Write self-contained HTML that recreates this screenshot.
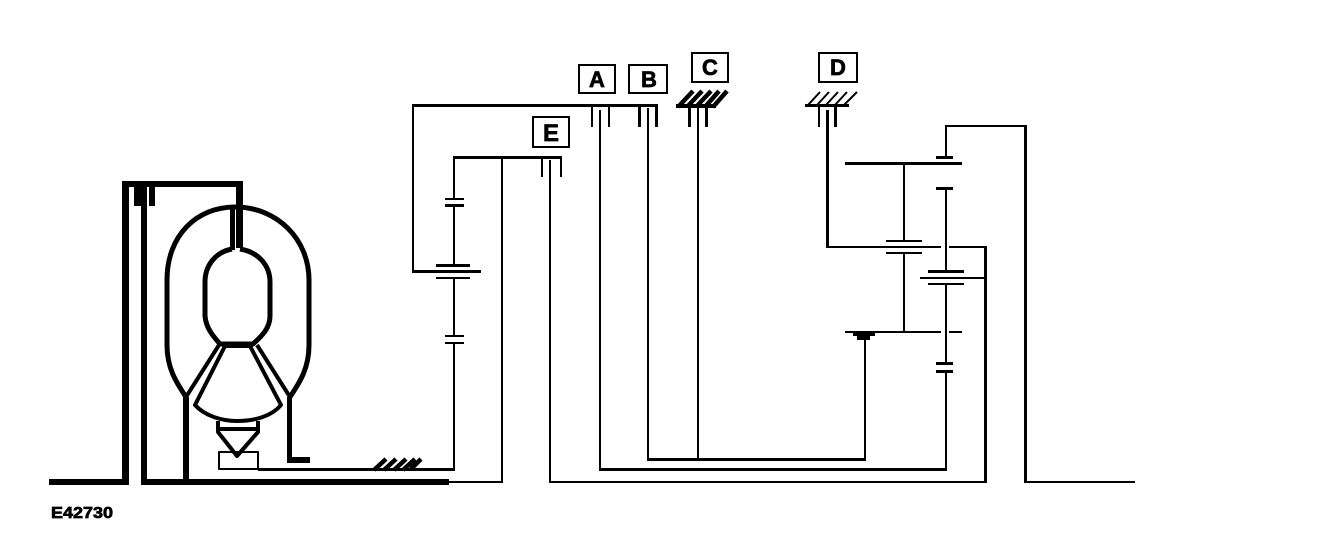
<!DOCTYPE html>
<html><head><meta charset="utf-8"><style>
html,body{margin:0;padding:0;background:#fff;width:1328px;height:540px;overflow:hidden}
svg{display:block}
text{font-family:"Liberation Sans",sans-serif;font-weight:bold;fill:#000;stroke:#000;stroke-width:.7}
</style></head><body>
<svg width="1328" height="540" viewBox="0 0 1328 540" xmlns="http://www.w3.org/2000/svg">
<rect width="1328" height="540" fill="#fff"/>
<g fill="#000" shape-rendering="crispEdges">
<!-- left converter frame -->
<rect x="49" y="479" width="80" height="6"/>
<rect x="122" y="181" width="7" height="304"/>
<rect x="122" y="181" width="121" height="6"/>
<rect x="236" y="181" width="7" height="67"/>
<rect x="134" y="187" width="7" height="19"/>
<rect x="141" y="187" width="6" height="298"/>
<rect x="149" y="187" width="6" height="19"/>
<rect x="141" y="479" width="308" height="6"/>
<rect x="183" y="397" width="6" height="85"/>
<rect x="287" y="397" width="5" height="66"/>
<rect x="287" y="457" width="23" height="6"/>
<rect x="230" y="207" width="5" height="43"/>
<!-- lower thin lines -->
<rect x="258" y="468" width="197" height="3"/>
<rect x="449" y="481" width="54" height="2"/>
<rect x="501" y="157" width="2" height="326"/>
<!-- left gear -->
<rect x="453" y="156" width="109" height="3"/>
<rect x="453" y="156" width="2" height="44"/>
<rect x="445" y="198" width="19" height="2"/>
<rect x="445" y="204" width="19" height="3"/>
<rect x="453" y="207" width="2" height="58"/>
<rect x="436" y="264" width="34" height="3"/>
<rect x="412" y="270" width="69" height="3"/>
<rect x="436" y="277" width="34" height="2"/>
<rect x="453" y="279" width="2" height="58"/>
<rect x="445" y="335" width="19" height="2"/>
<rect x="445" y="342" width="19" height="2"/>
<rect x="453" y="344" width="2" height="127"/>
<!-- A/B top -->
<rect x="412" y="104" width="246" height="3"/>
<rect x="412" y="104" width="2" height="168"/>
<rect x="591" y="107" width="2" height="20"/>
<rect x="608" y="107" width="2" height="20"/>
<rect x="599" y="110" width="2" height="361"/>
<rect x="638" y="107" width="3" height="20"/>
<rect x="655" y="107" width="3" height="20"/>
<rect x="647" y="108" width="2" height="353"/>
<!-- C -->
<rect x="676" y="104" width="40" height="4"/>
<rect x="688" y="107" width="3" height="20"/>
<rect x="705" y="107" width="3" height="20"/>
<rect x="697" y="108" width="2" height="352"/>
<!-- E ticks -->
<rect x="541" y="159" width="2" height="18"/>
<rect x="560" y="159" width="2" height="18"/>
<rect x="549" y="160" width="2" height="323"/>
<rect x="549" y="481" width="438" height="2"/>
<!-- horizontal long -->
<rect x="647" y="458" width="219" height="3"/>
<rect x="599" y="468" width="348" height="3"/>
<!-- D -->
<rect x="805" y="104" width="44" height="3"/>
<rect x="818" y="107" width="2" height="20"/>
<rect x="834" y="107" width="3" height="20"/>
<rect x="826" y="110" width="3" height="138"/>
<rect x="826" y="246" width="115" height="2"/>
<rect x="949" y="246" width="38" height="2"/>
<rect x="984" y="246" width="3" height="237"/>
<!-- right gears -->
<rect x="945" y="125" width="82" height="2"/>
<rect x="1024" y="125" width="3" height="358"/>
<rect x="1024" y="481" width="111" height="2"/>
<rect x="945" y="125" width="2" height="32"/>
<rect x="936" y="156" width="17" height="3"/>
<rect x="845" y="162" width="117" height="3"/>
<rect x="936" y="187" width="17" height="3"/>
<rect x="945" y="190" width="2" height="81"/>
<rect x="928" y="270" width="36" height="3"/>
<rect x="920" y="277" width="65" height="2"/>
<rect x="928" y="283" width="36" height="2"/>
<rect x="945" y="285" width="2" height="78"/>
<rect x="936" y="362" width="17" height="3"/>
<rect x="936" y="370" width="17" height="3"/>
<rect x="945" y="373" width="2" height="98"/>
<rect x="903" y="165" width="2" height="76"/>
<rect x="886" y="240" width="36" height="2"/>
<rect x="886" y="252" width="36" height="2"/>
<rect x="903" y="254" width="2" height="78"/>
<rect x="845" y="331" width="96" height="2"/>
<rect x="949" y="331" width="13" height="2"/>
<rect x="853" y="333" width="22" height="3"/>
<rect x="857" y="336" width="13" height="4"/>
<rect x="864" y="340" width="2" height="120"/>
</g>
<!-- converter curves -->
<g fill="none" stroke="#000" stroke-linejoin="round">
<path stroke-width="5" d="M186 397 C176 382 167 368 167 345 L167 280 C167 235 197 207 235 207 C278 207 309 240 309 280 L309 345 C309 368 300 382 290 397"/>
<path stroke-width="5" d="M232 249 C216 252 205 265 205 282 L205 316 C206 328 213 336 220 344 L253 344 C262 336 270 328 270 316 L270 282 C270 265 258 252 240 249"/>
<path stroke-width="4" d="M186 397 L219 345 M290 397 L257 345"/>
<path stroke-width="4" d="M225 346 L195 405 C205 416 222 421 237 421 C255 421 272 416 281 405 L250 346"/>
<path stroke-width="4" d="M225 346 L250 346"/>
<path stroke-width="4" d="M218 421 L218 432 L237 456 L258 432 L258 421"/>
<path stroke-width="4" d="M219 429 L258 429"/>
<path stroke-width="2" d="M219 452 H258 V469 H219 Z"/>
</g>
<!-- hatches -->
<g stroke="#000" fill="none">
<path stroke-width="4.5" d="M678 107 L693 91 M687 107 L702 91 M696 107 L711 91 M705 107 L719 91 M713 107 L727 91"/>
<path stroke-width="2" d="M808 105 L820 92 M817 105 L829 92 M826 105 L838 92 M835 105 L847 92 M844 105 L857 92"/>
<path stroke-width="4.5" d="M374 470 L386 459 M384 470 L396 459 M394 470 L406 459 M403 470 L415 459 M411 469 L421 459"/>
</g>
<!-- label boxes -->
<g fill="none" stroke="#000" stroke-width="2" shape-rendering="crispEdges">
<rect x="579" y="65" width="36" height="28"/>
<rect x="629" y="65" width="38" height="28"/>
<rect x="692" y="53" width="36" height="29"/>
<rect x="819" y="53" width="38" height="29"/>
<rect x="533" y="117" width="36" height="30"/>
</g>
<text x="597" y="87" font-size="22" text-anchor="middle">A</text>
<text x="649" y="87" font-size="22" text-anchor="middle">B</text>
<text x="710" y="75" font-size="22" text-anchor="middle">C</text>
<text x="838" y="75" font-size="22" text-anchor="middle">D</text>
<text x="551" y="141" font-size="24" text-anchor="middle">E</text>
<text x="51" y="518" font-size="16" textLength="62" lengthAdjust="spacingAndGlyphs">E42730</text>
</svg>
</body></html>
